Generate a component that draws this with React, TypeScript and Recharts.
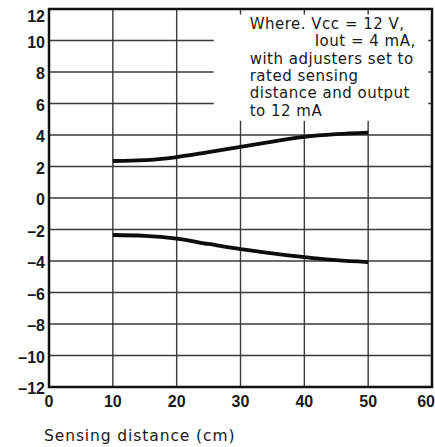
import React from "react";
import { LineChart, Line, XAxis, YAxis, CartesianGrid, ReferenceArea } from "recharts";

const distance = [10, 15, 20, 25, 30, 35, 40, 45, 50];
const upperOutput = [2.35, 2.4, 2.6, 2.92, 3.25, 3.58, 3.88, 4.05, 4.15];
const lowerOutput = [-2.35, -2.4, -2.58, -2.92, -3.25, -3.52, -3.76, -3.95, -4.07];
const xTicks = [0, 10, 20, 30, 40, 50, 60];
const yTicks = [-12, -10, -8, -6, -4, -2, 0, 2, 4, 6, 8, 10, 12];
const noteLines = [
  "Where. Vcc = 12 V,",
  "Iout = 4 mA,",
  "with adjusters set to",
  "rated sensing",
  "distance and output",
  "to 12 mA",
];
const noteBox = { x1: 25.8, x2: 59.4, y1: 4.9, y2: 11.65 };
const xTitle = "Sensing distance (cm)";

const data = distance.map((d, i) => ({ d, upper: upperOutput[i], lower: lowerOutput[i] }));

const TXT = "#1a1a1a";

const YTick = (props: any) => {
  const { x, y, payload } = props;
  const v = payload.value as number;
  const label = v < 0 ? `\u2013${Math.abs(v)}` : `${v}`;
  const base = Math.max(y + 7, 22);
  return (
    <text x={x} y={base} textAnchor="end" fontFamily="Liberation Sans, Arial, sans-serif" fontWeight={700} fontSize={16} fill={TXT}>
      {label}
    </text>
  );
};

const XTick = (props: any) => {
  const { x, y, payload, index } = props;
  const last = index === xTicks.length - 1;
  return (
    <text
      x={last ? x + 3 : x}
      y={y + 20}
      textAnchor={last ? "end" : "middle"}
      fontFamily="Liberation Sans, Arial, sans-serif"
      fontWeight={700}
      fontSize={16}
      fill={TXT}
    >
      {payload.value}
    </text>
  );
};

const NoteShape = (props: any) => {
  const { x, y, width, height } = props;
  return (
    <g>
      <rect x={x} y={y} width={width} height={height} fill="#ffffff" />
      {noteLines.map((t, i) => (
        <text
          key={i}
          x={x + (i === 1 ? 101 : 36)}
          y={y + 14.5 + i * 17.3}
          fontFamily="DejaVu Sans, sans-serif"
          fontSize={15}
          letterSpacing={0.5}
          fill={TXT}
        >
          {t}
        </text>
      ))}
    </g>
  );
};

const XTitle = (props: any) => {
  const { viewBox } = props;
  return (
    <text
      x={viewBox.x - 5}
      y={viewBox.y + 54}
      fontFamily="DejaVu Sans, sans-serif"
      fontSize={15.5}
      letterSpacing={0.9}
      fill={TXT}
    >
      {xTitle}
    </text>
  );
};

export default function App() {
  return (
    <div style={{ position: "absolute", left: 0, top: 0, width: 435, height: 447, background: "#fff" }}>
      <LineChart width={435} height={447} data={data} margin={{ top: 9, right: 3, bottom: 0, left: 0 }}>
        <CartesianGrid stroke="#3a3a3a" strokeWidth={1.4} />
        <XAxis
          dataKey="d"
          type="number"
          domain={[0, 60]}
          ticks={xTicks}
          interval={0}
          height={60}
          axisLine={false}
          tickLine={false}
          tickSize={0}
          tickMargin={0}
          tick={<XTick />}
          label={<XTitle />}
        />
        <YAxis
          type="number"
          domain={[-12, 12]}
          ticks={yTicks}
          interval={0}
          width={49}
          axisLine={false}
          tickLine={false}
          tickSize={0}
          tickMargin={4}
          tick={<YTick />}
        />
        <ReferenceArea x1={noteBox.x1} x2={noteBox.x2} y1={noteBox.y1} y2={noteBox.y2} shape={<NoteShape />} />
        <ReferenceArea x1={0} x2={60} y1={-12} y2={12} fill="none" fillOpacity={0} stroke="#111" strokeWidth={2.5} />
        <Line type="monotone" dataKey="upper" stroke="#0d0d0d" strokeWidth={3.8} dot={false} isAnimationActive={false} />
        <Line type="monotone" dataKey="lower" stroke="#0d0d0d" strokeWidth={3.8} dot={false} isAnimationActive={false} />
      </LineChart>
    </div>
  );
}
